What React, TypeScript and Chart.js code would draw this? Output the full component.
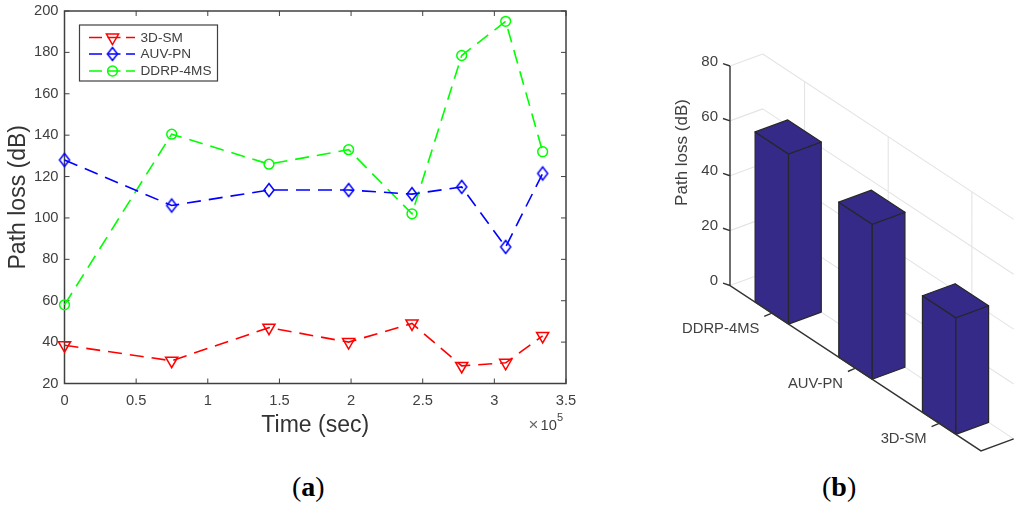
import React, { useEffect, useRef } from "react";
import { Chart, registerables } from "chart.js";
import { drawPoint } from "chart.js/helpers";

Chart.register(...registerables);

const timeSec = [0, 74800, 142700, 198300, 242500, 277200, 307900, 333700];
const sm3d = [38.5, 31, 47, 40, 49, 28.5, 30, 43];
const auvPn = [128, 106, 113.5, 113.5, 111.5, 115, 86, 121.5];
const ddrp = [58, 140.5, 126, 133, 102, 178.5, 195, 132];
const seriesNames = ["3D-SM", "AUV-PN", "DDRP-4MS"];

const barCategories = ["DDRP-4MS", "AUV-PN", "3D-SM"];
const barValues = [62, 56.5, 42.5];

const FONT = '"Liberation Sans", Arial, sans-serif';
const TEXT = "#404040";
const AXIS = "#404040";

function diamondMarker(color: string) {
  const c = document.createElement("canvas");
  c.width = 14;
  c.height = 18;
  const g = c.getContext("2d")!;
  g.strokeStyle = color;
  g.lineWidth = 1.5;
  g.beginPath();
  g.moveTo(7, 2.5);
  g.lineTo(12, 9);
  g.lineTo(7, 15.5);
  g.lineTo(2, 9);
  g.closePath();
  g.stroke();
  return c;
}

const lineFrame = {
  id: "lineFrame",
  beforeDatasetsDraw(chart: any) {
    const { ctx, chartArea: a, scales } = chart;
    ctx.save();
    ctx.strokeStyle = AXIS;
    ctx.lineWidth = 1;
    ctx.beginPath();
    for (const t of scales.x.ticks) {
      const p = scales.x.getPixelForValue(t.value);
      ctx.moveTo(p, a.bottom);
      ctx.lineTo(p, a.bottom - 5);
      ctx.moveTo(p, a.top);
      ctx.lineTo(p, a.top + 5);
    }
    for (const t of scales.y.ticks) {
      const p = scales.y.getPixelForValue(t.value);
      ctx.moveTo(a.left, p);
      ctx.lineTo(a.left + 5, p);
      ctx.moveTo(a.right, p);
      ctx.lineTo(a.right - 5, p);
    }
    ctx.stroke();
    ctx.lineWidth = 1.5;
    ctx.strokeRect(a.left, a.top, a.right - a.left, a.bottom - a.top);
    ctx.restore();
  },
  afterDraw(chart: any) {
    const { ctx, data } = chart;
    ctx.save();
    // legend box
    ctx.fillStyle = "#fff";
    ctx.strokeStyle = AXIS;
    ctx.lineWidth = 1.2;
    ctx.fillRect(79.5, 25, 138, 56);
    ctx.strokeRect(79.5, 25, 138, 56);
    const rows = [37.5, 54, 71];
    data.datasets.forEach((ds: any, i: number) => {
      const y = rows[i];
      ctx.strokeStyle = ds.borderColor;
      ctx.lineWidth = 1.6;
      ctx.setLineDash([13, 5.5]);
      ctx.beginPath();
      ctx.moveTo(89, y);
      ctx.lineTo(135, y);
      ctx.stroke();
      ctx.setLineDash([]);
      ctx.lineWidth = ds.pointBorderWidth;
      ctx.fillStyle = "rgba(0,0,0,0)";
      drawPoint(
        ctx,
        {
          pointStyle: ds.pointStyle,
          rotation: ds.pointRotation || 0,
          radius: ds.pointRadius,
          borderWidth: ds.pointBorderWidth,
        },
        112.5,
        y
      );
      ctx.fillStyle = TEXT;
      ctx.font = `13.6px ${FONT}`;
      ctx.textAlign = "left";
      ctx.textBaseline = "middle";
      ctx.fillText(ds.label, 140.5, y + 0.5);
    });
    // axis multiplier
    ctx.fillStyle = "#666";
    ctx.textBaseline = "alphabetic";
    ctx.font = `17px ${FONT}`;
    ctx.fillText("\u00d7", 528.5, 430);
    ctx.fillStyle = TEXT;
    ctx.font = `14.7px ${FONT}`;
    ctx.fillText("10", 540.5, 429.5);
    ctx.font = `11px ${FONT}`;
    ctx.fillText("5", 557, 421);
    ctx.restore();
  },
};

const DEPTH_X = 32.7;
const DEPTH_Y = 12;
const SLOPE = 0.659;
const GRID = "#e4e4e4";

const bars3d = {
  id: "bars3d",
  beforeDatasetsDraw(chart: any) {
    const { ctx, chartArea: a, scales } = chart;
    const px = (x: number, y: number, d: number) => [
      x + d * DEPTH_X,
      y + (x - a.left) * SLOPE - d * DEPTH_Y,
    ];
    ctx.save();
    ctx.strokeStyle = GRID;
    ctx.lineWidth = 1.1;
    ctx.beginPath();
    const seg = (p: number[], q: number[]) => {
      ctx.moveTo(p[0], p[1]);
      ctx.lineTo(q[0], q[1]);
    };
    for (const t of scales.y.ticks) {
      const y = scales.y.getPixelForValue(t.value);
      seg(px(a.left, y, 0), px(a.left, y, 1));
      seg(px(a.left, y, 1), px(a.right, y, 1));
    }
    const y0 = scales.y.getPixelForValue(0);
    const yTop = scales.y.getPixelForValue(80);
    scales.x.ticks.forEach((_: any, i: number) => {
      const x = scales.x.getPixelForValue(i);
      seg(px(x, y0, 0), px(x, y0, 1));
      seg(px(x, y0, 1), px(x, yTop, 1));
    });
    ctx.stroke();
    ctx.restore();
  },
  beforeDatasetDraw(chart: any, args: any) {
    const { ctx, chartArea: a } = chart;
    const ds = chart.data.datasets[args.index];
    const px = (x: number, y: number, d: number) => [
      x + d * DEPTH_X,
      y + (x - a.left) * SLOPE - d * DEPTH_Y,
    ];
    ctx.save();
    ctx.fillStyle = ds.backgroundColor;
    ctx.strokeStyle = "#26262b";
    ctx.lineWidth = 1.2;
    ctx.lineJoin = "round";
    const poly = (pts: number[][]) => {
      ctx.beginPath();
      pts.forEach((p, i) => (i ? ctx.lineTo(p[0], p[1]) : ctx.moveTo(p[0], p[1])));
      ctx.closePath();
      ctx.fill();
      ctx.stroke();
    };
    for (const el of args.meta.data) {
      const { x, y, base, width } = el.getProps(["x", "y", "base", "width"], true);
      const x0 = x - width / 2;
      const x1 = x + width / 2;
      poly([px(x0, base, 0), px(x1, base, 0), px(x1, y, 0), px(x0, y, 0)]);
      poly([px(x1, base, 0), px(x1, base, 1), px(x1, y, 1), px(x1, y, 0)]);
      poly([px(x0, y, 0), px(x1, y, 0), px(x1, y, 1), px(x0, y, 1)]);
    }
    ctx.restore();
    return false;
  },
  afterDatasetsDraw(chart: any) {
    const { ctx, chartArea: a, scales } = chart;
    const y0 = scales.y.getPixelForValue(0);
    const edge = (x: number) => y0 + (x - a.left) * SLOPE;
    ctx.save();
    ctx.strokeStyle = "#333";
    ctx.lineWidth = 1.4;
    ctx.beginPath();
    ctx.moveTo(a.left, a.top);
    ctx.lineTo(a.left, y0);
    ctx.lineTo(a.right, edge(a.right));
    ctx.lineTo(a.right + DEPTH_X, edge(a.right) - DEPTH_Y);
    for (const t of scales.y.ticks) {
      const y = scales.y.getPixelForValue(t.value);
      ctx.moveTo(a.left, y);
      ctx.lineTo(a.left - 7, y - 2.4);
    }
    scales.x.ticks.forEach((_: any, i: number) => {
      const x = scales.x.getPixelForValue(i);
      ctx.moveTo(x, edge(x));
      ctx.lineTo(x - 7.6, edge(x) + 3.3);
    });
    ctx.stroke();
    ctx.fillStyle = TEXT;
    ctx.font = `14.8px ${FONT}`;
    ctx.textAlign = "right";
    ctx.textBaseline = "middle";
    scales.x.ticks.forEach((_: any, i: number) => {
      const x = scales.x.getPixelForValue(i);
      ctx.fillText(scales.x.getLabelForValue(i), x - 12.5, edge(x) + 16);
    });
    ctx.font = `17px ${FONT}`;
    ctx.textAlign = "center";
    ctx.translate(22, 152.5);
    ctx.rotate(-Math.PI / 2);
    ctx.fillText("Path loss (dB)", 0, 0);
    ctx.restore();
  },
};

export default function App() {
  const lineRef = useRef<HTMLCanvasElement>(null);
  const barRef = useRef<HTMLCanvasElement>(null);

  useEffect(() => {
    const shared = { pointBackgroundColor: "transparent", fill: false, tension: 0, clip: false as any };
    const toPts = (v: number[]) => v.map((y, i) => ({ x: timeSec[i], y }));
    const common = { borderWidth: 1.6, borderDash: [14, 8], pointBorderWidth: 1.5 };
    const line = new Chart(lineRef.current!, {
      type: "line",
      data: {
        datasets: [
          {
            ...shared,
            ...common,
            label: seriesNames[0],
            data: toPts(sm3d),
            borderColor: "#ff0000",
            pointBorderColor: "#ff0000",
            pointStyle: "triangle",
            pointRotation: 180,
            pointRadius: 7,
          },
          {
            ...shared,
            ...common,
            label: seriesNames[1],
            data: toPts(auvPn),
            borderColor: "#0000ff",
            pointBorderColor: "#0000ff",
            pointStyle: diamondMarker("#0000ff"),
            pointRadius: 6,
          },
          {
            ...shared,
            ...common,
            label: seriesNames[2],
            data: toPts(ddrp),
            borderColor: "#00ff00",
            pointBorderColor: "#00ff00",
            pointStyle: "circle",
            pointRadius: 4.9,
          },
        ] as any,
      },
      options: {
        responsive: false,
        animation: false,
        layout: { padding: { left: 0, top: 11, right: 34, bottom: 0 } },
        plugins: { legend: { display: false }, tooltip: { enabled: false } },
        scales: {
          x: {
            type: "linear",
            min: 0,
            max: 350000,
            afterFit: (s: any) => {
              s.height = 86.5;
              s.paddingLeft = 0;
              s.paddingRight = 0;
            },
            grid: { display: false, drawTicks: false },
            border: { display: false },
            ticks: {
              stepSize: 50000,
              autoSkip: false,
              maxRotation: 0,
              padding: 9,
              color: TEXT,
              font: { family: FONT, size: 14.7 },
              callback: (v: any) => String(Number(v) / 100000),
            },
            title: {
              display: true,
              text: "Time (sec)",
              color: "#333",
              font: { family: FONT, size: 23 },
              padding: { top: 0, bottom: 30.5 },
            },
          },
          y: {
            min: 20,
            max: 200,
            afterFit: (s: any) => {
              s.width = 64.5;
              s.paddingTop = 0;
              s.paddingBottom = 0;
            },
            grid: { display: false, drawTicks: false },
            border: { display: false },
            ticks: {
              stepSize: 20,
              autoSkip: false,
              padding: 6,
              color: TEXT,
              font: { family: FONT, size: 14.7 },
            },
            title: {
              display: true,
              text: "Path loss (dB)",
              color: "#333",
              font: { family: FONT, size: 23 },
              padding: { top: 5.2, bottom: 0 },
            },
          },
        },
      } as any,
      plugins: [lineFrame as any],
    });

    const bar = new Chart(barRef.current!, {
      type: "bar",
      data: {
        labels: barCategories,
        datasets: [
          {
            data: barValues,
            backgroundColor: "#352a87",
            barPercentage: 0.4,
            categoryPercentage: 1,
          },
        ],
      },
      options: {
        responsive: false,
        animation: false,
        layout: { padding: { left: 0, top: 66, right: 43, bottom: 0 } },
        plugins: { legend: { display: false }, tooltip: { enabled: false } },
        scales: {
          x: {
            afterFit: (s: any) => {
              s.height = 184.5;
            },
            grid: { display: false, drawTicks: false },
            border: { display: false },
            ticks: { display: false },
          },
          y: {
            min: 0,
            max: 80,
            afterFit: (s: any) => {
              s.width = 70;
            },
            grid: { display: false, drawTicks: false },
            border: { display: false },
            ticks: {
              stepSize: 20,
              padding: 12,
              labelOffset: -4.5,
              color: TEXT,
              font: { family: FONT, size: 15 },
            },
          },
        },
      } as any,
      plugins: [bars3d as any],
    });

    return () => {
      line.destroy();
      bar.destroy();
    };
  }, []);

  const caption: React.CSSProperties = {
    position: "absolute",
    top: 470,
    fontFamily: '"Liberation Serif", serif',
    fontSize: 28,
    lineHeight: "34px",
    color: "#000",
  };

  return (
    <div style={{ position: "fixed", left: 0, top: 0, width: 1024, height: 511, background: "#fff", overflow: "hidden" }}>
      <canvas ref={lineRef} width={600} height={470} style={{ position: "absolute", left: 0, top: 0 }} />
      <canvas ref={barRef} width={364} height={470} style={{ position: "absolute", left: 660, top: 0 }} />
      <div style={{ ...caption, left: 292 }}>
        (<b>a</b>)
      </div>
      <div style={{ ...caption, left: 822 }}>
        (<b>b</b>)
      </div>
    </div>
  );
}
